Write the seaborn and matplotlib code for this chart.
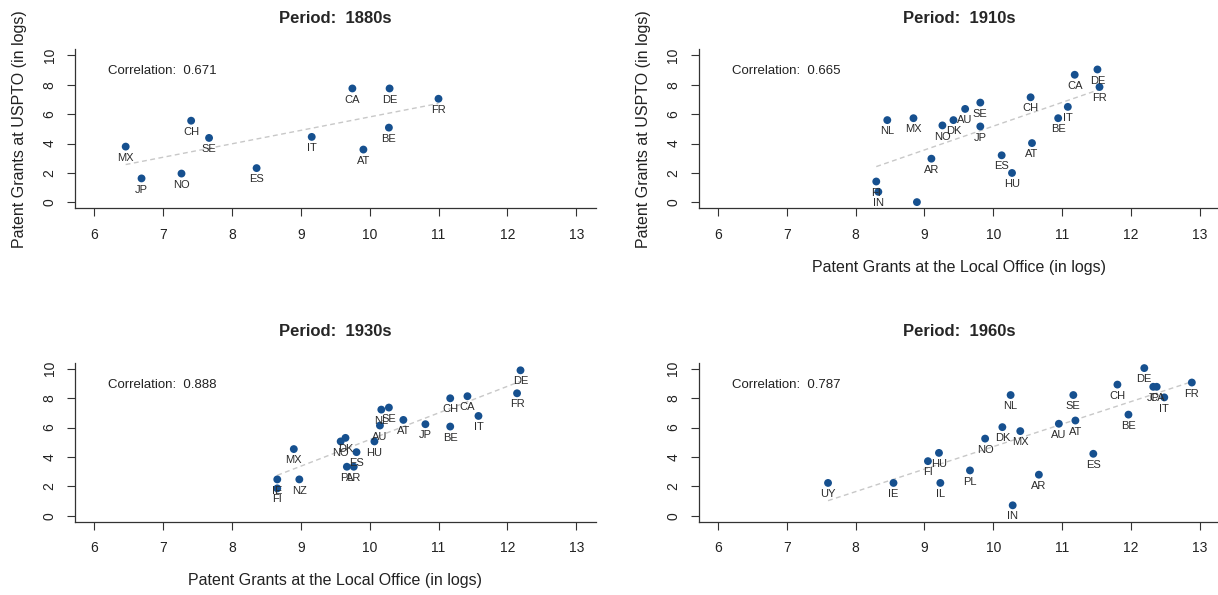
import numpy as np
import pandas as pd
import matplotlib
matplotlib.use("Agg")
import matplotlib.pyplot as plt
import seaborn as sns

# ---------------- data ----------------
periods = ["1880s", "1910s", "1930s", "1960s"]
correlations = ["0.671", "0.665", "0.888", "0.787"]

codes_1880 = ["MX", "JP", "NO", "CH", "SE", "ES", "IT", "CA", "AT", "DE", "BE", "FR"]
local_1880 = [6.46, 6.69, 7.27, 7.41, 7.67, 8.36, 9.16, 9.75, 9.91, 10.29, 10.28, 11.00]
uspto_1880 = [3.79, 1.63, 1.96, 5.55, 4.38, 2.33, 4.45, 7.74, 3.59, 7.74, 5.08, 7.04]

codes_1910 = ["NL", "MX", "NO", "DK", "AU", "SE", "JP", "AR", "FI", "IN", "",
              "ES", "HU", "CH", "AT", "BE", "IT", "CA", "DE", "FR"]
local_1910 = [8.46, 8.84, 9.26, 9.42, 9.59, 9.81, 9.81, 9.10, 8.30, 8.33, 8.89,
              10.12, 10.27, 10.54, 10.56, 10.94, 11.08, 11.18, 11.51, 11.54]
uspto_1910 = [5.59, 5.72, 5.23, 5.59, 6.35, 6.78, 5.16, 2.97, 1.42, 0.72, 0.02,
              3.20, 2.00, 7.14, 4.03, 5.72, 6.49, 8.67, 9.03, 7.84]

codes_1930 = ["IE", "FI", "NZ", "MX", "NO", "DK", "PL", "AR", "ES", "HU", "AU",
              "NL", "SE", "AT", "JP", "CH", "BE", "CA", "IT", "FR", "DE"]
local_1930 = [8.66, 8.66, 8.98, 8.90, 9.58, 9.65, 9.67, 9.77, 9.81, 10.07, 10.15,
              10.17, 10.28, 10.49, 10.81, 11.17, 11.17, 11.42, 11.58, 12.14, 12.19]
uspto_1930 = [2.48, 1.87, 2.48, 4.54, 5.06, 5.30, 3.34, 3.34, 4.33, 5.06, 6.14,
              7.22, 7.36, 6.52, 6.23, 7.99, 6.07, 8.13, 6.79, 8.33, 9.89]

codes_1960 = ["UY", "IE", "FI", "HU", "IL", "PL", "NO", "DK", "NL", "MX", "IN", "AR",
              "AU", "SE", "AT", "ES", "CH", "BE", "DE", "JP", "CA", "IT", "FR"]
local_1960 = [7.60, 8.55, 9.05, 9.21, 9.23, 9.66, 9.88, 10.13, 10.25, 10.39, 10.28, 10.66,
              10.95, 11.16, 11.19, 11.45, 11.80, 11.96, 12.19, 12.32, 12.37, 12.48, 12.88]
uspto_1960 = [2.24, 2.24, 3.72, 4.28, 2.24, 3.09, 5.25, 6.03, 8.21, 5.76, 0.72, 2.80,
              6.26, 8.21, 6.48, 4.22, 8.92, 6.88, 10.04, 8.77, 8.77, 8.05, 9.06]

x_ticks = [6, 7, 8, 9, 10, 11, 12, 13]
y_ticks = [0, 2, 4, 6, 8, 10]
x_label = "Patent Grants at the Local Office (in logs)"
y_label = "Patent Grants at USPTO (in logs)"

panels = [
    (codes_1880, local_1880, uspto_1880),
    (codes_1910, local_1910, uspto_1910),
    (codes_1930, local_1930, uspto_1930),
    (codes_1960, local_1960, uspto_1960),
]

# ---------------- style ----------------
sns.set_style("ticks")
plt.rcParams["font.family"] = ["Liberation Sans", "DejaVu Sans"]

POINT = "#16508f"
LINE = "#c8c8c8"
AXC = "#333333"

W, H = 1218, 595
fig = plt.figure(figsize=(W / 100, H / 100), dpi=100)
fig.patch.set_facecolor("white")


def rect(l, r, t, b):
    return [l / W, 1 - b / H, (r - l) / W, (b - t) / H]


rects = [
    rect(74.7, 595.6, 49.3, 208.3),
    rect(698.5, 1219.4, 49.3, 208.3),
    rect(74.7, 595.6, 362.8, 521.8),
    rect(698.5, 1219.4, 362.8, 521.8),
]

for i, ((codes, xs, ys), per, cor) in enumerate(zip(panels, periods, correlations)):
    ax = fig.add_axes(rects[i])
    df = pd.DataFrame({"code": codes, "local": xs, "uspto": ys})

    sns.regplot(data=df, x="local", y="uspto", scatter=False, ci=None, truncate=True,
                line_kws=dict(color=LINE, lw=1.0, ls=(0, (3.5, 2.5))), ax=ax)
    sns.scatterplot(data=df, x="local", y="uspto", s=32, color=POINT,
                    edgecolor="none", linewidth=0, ax=ax, zorder=3)

    for c, xv, yv in zip(df["code"], df["local"], df["uspto"]):
        if c:
            ax.annotate(c, (xv, yv), xytext=(0, -8), textcoords="offset points",
                        ha="center", va="center", fontsize=8, color="#2b2b2b",
                        clip_on=True, zorder=4)

    ax.text(6.2, 8.9, f"Correlation:  {cor}", fontsize=9.5, ha="left",
            va="center", color="#222222")

    ax.set_xlim(5.72, 13.28)
    ax.set_ylim(-0.4, 10.4)
    ax.set_xticks(x_ticks)
    ax.set_xticklabels([str(t) for t in x_ticks])
    ax.set_yticks(y_ticks)
    ax.set_yticklabels([str(t) for t in y_ticks])
    ax.tick_params(axis="both", direction="out", length=6, width=0.8, colors=AXC,
                   labelsize=10, labelcolor="#222222")
    ax.tick_params(axis="x", pad=8)
    ax.tick_params(axis="y", labelrotation=90, pad=7)
    for lab in ax.get_yticklabels():
        lab.set_va("center")

    for s in ["top", "right"]:
        ax.spines[s].set_visible(False)
    for s in ["left", "bottom"]:
        ax.spines[s].set_color(AXC)
        ax.spines[s].set_linewidth(0.9)

    ax.set_title(f"Period:  {per}", fontsize=12, fontweight="bold", pad=19)

    ax.set_xlabel(x_label if i in (1, 2) else "", fontsize=11.5,
                  color="#222222", labelpad=13)
    ax.set_ylabel(y_label if i in (0, 1) else "", fontsize=11.5,
                  color="#222222", labelpad=11)
    ax.grid(False)
    ax.set_facecolor("white")

fig.savefig("out.png", dpi=100, facecolor="white")
